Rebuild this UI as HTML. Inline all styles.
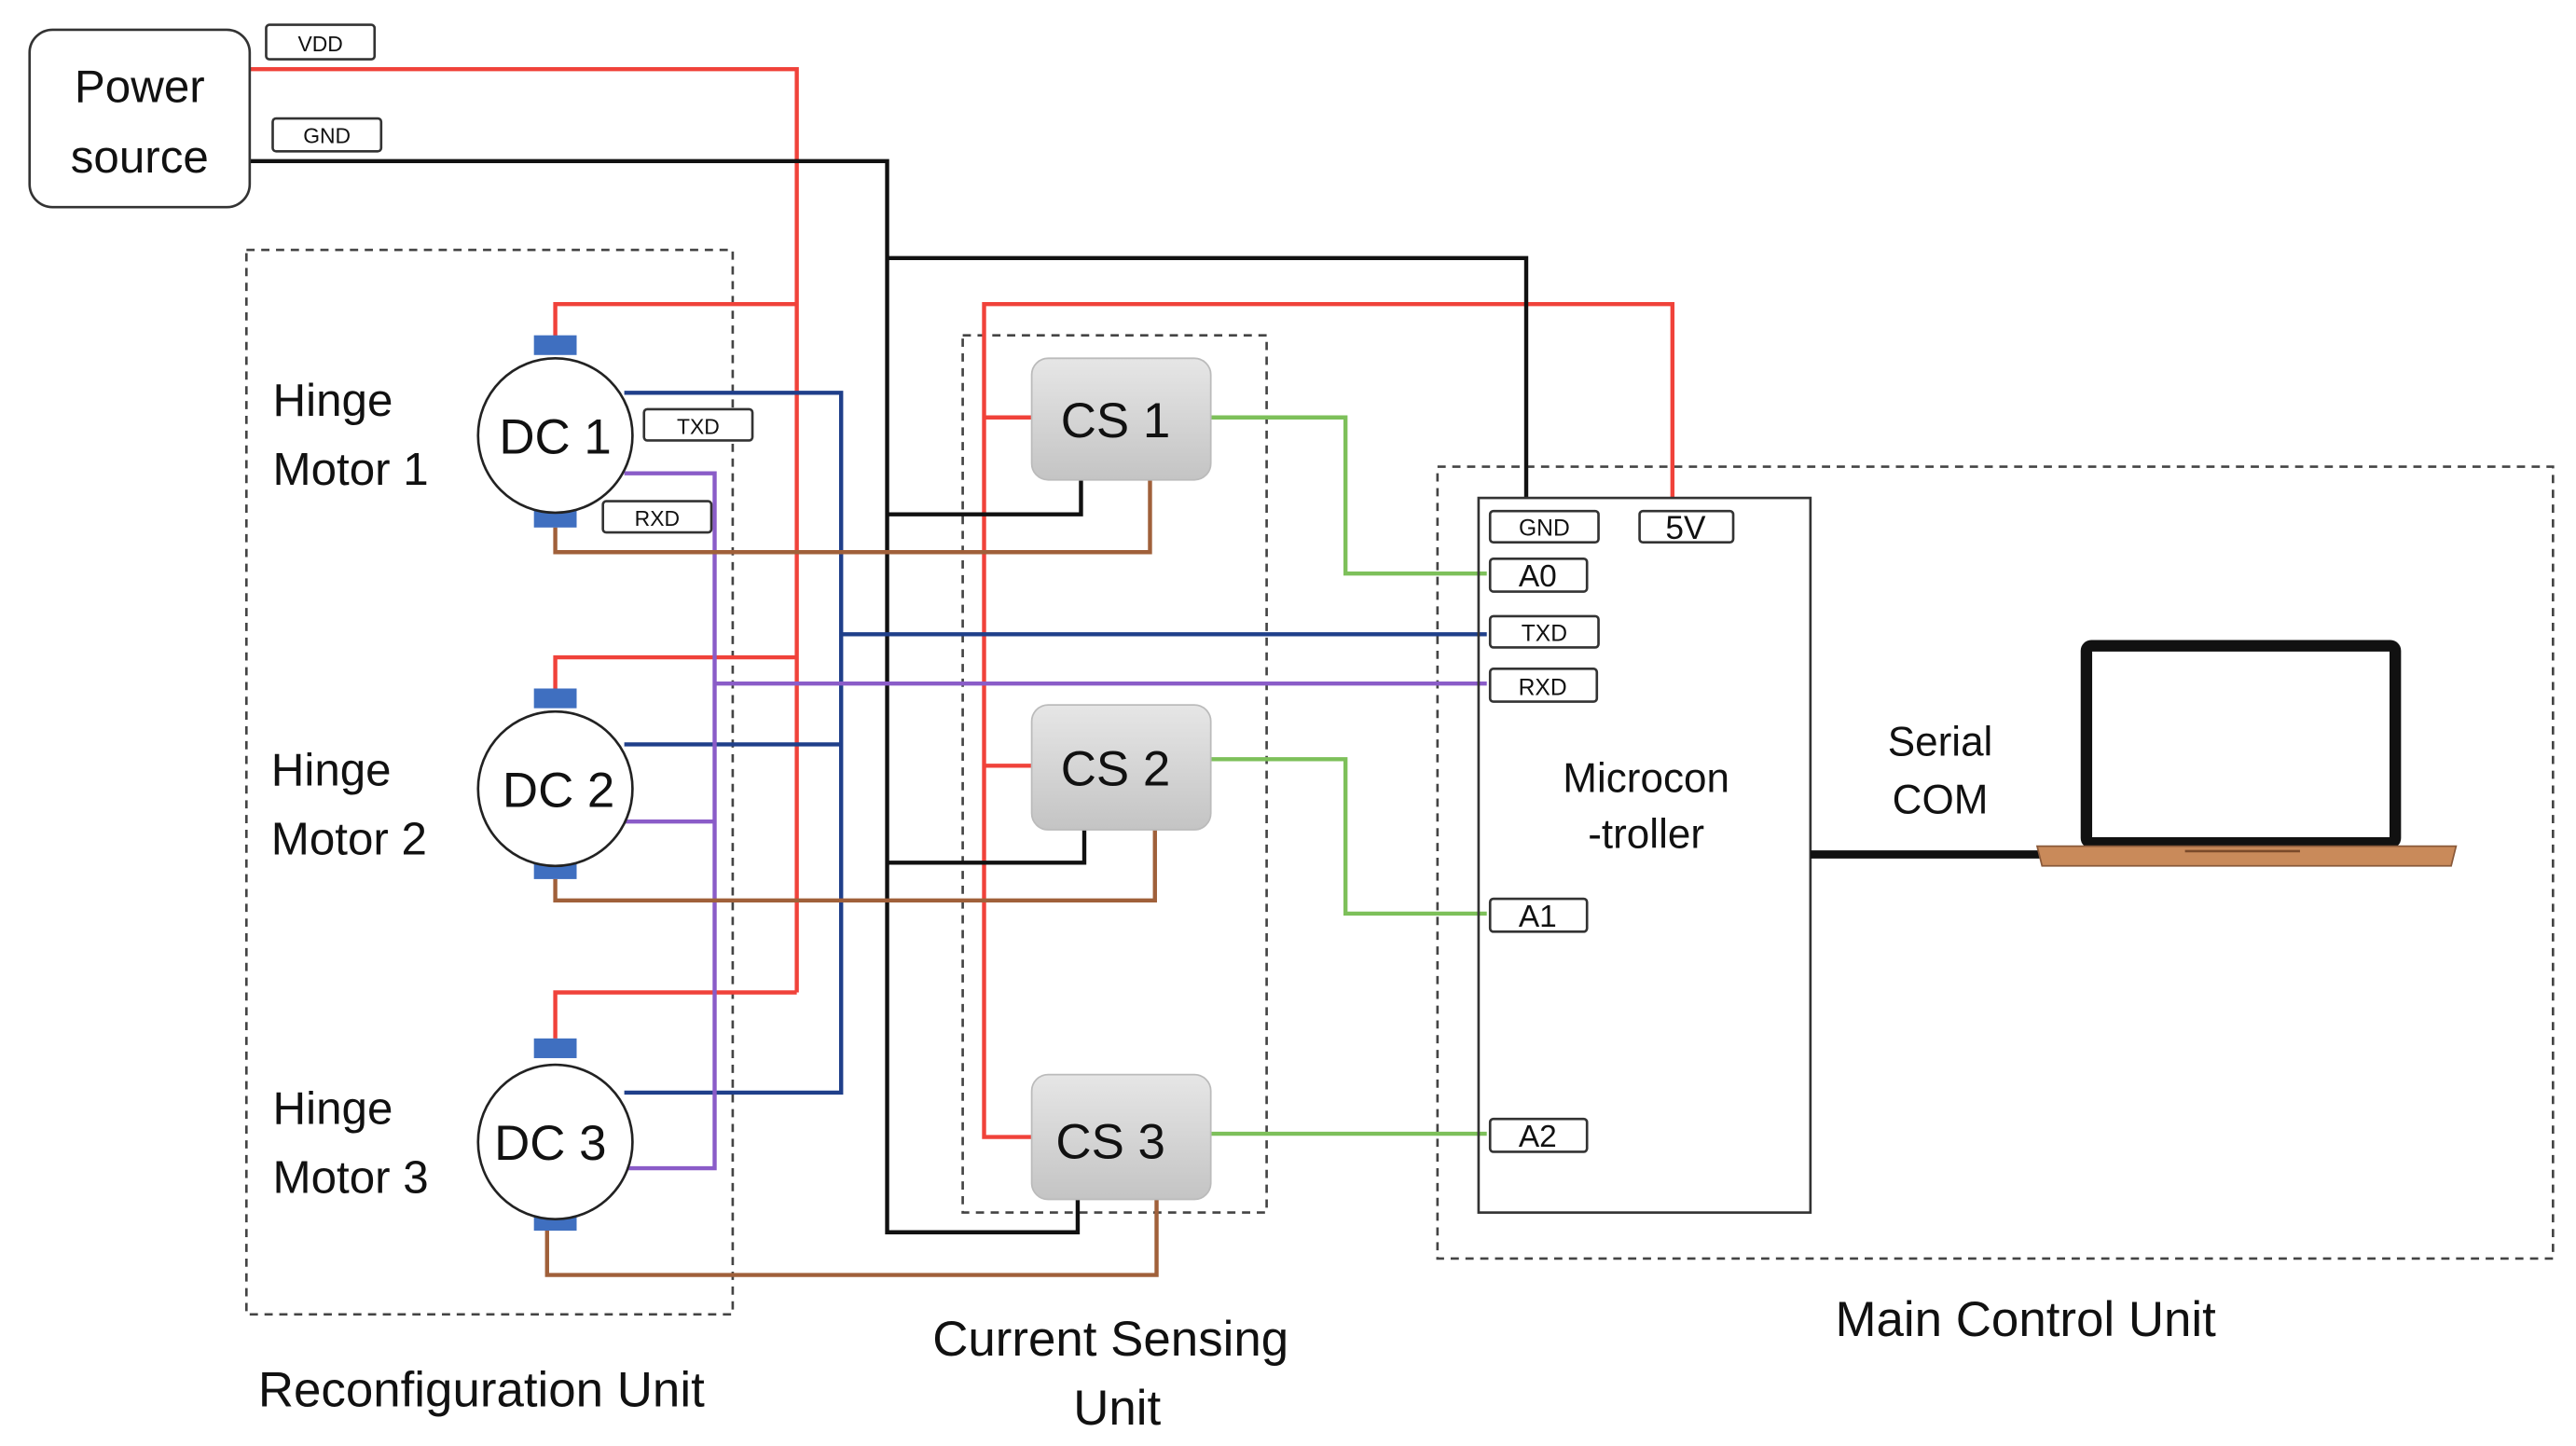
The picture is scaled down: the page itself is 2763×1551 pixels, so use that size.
<!DOCTYPE html>
<html><head><meta charset="utf-8"><style>
html,body{margin:0;padding:0;background:#fff}
svg{display:block}
text{font-family:"Liberation Sans",sans-serif;fill:#111}
</style></head><body>
<svg width="2763" height="1551" viewBox="0 0 1568 880" xmlns="http://www.w3.org/2000/svg">
<defs>
<linearGradient id="g" x1="0" y1="0" x2="0" y2="1"><stop offset="0" stop-color="#e6e6e6"/><stop offset="1" stop-color="#c4c4c4"/></linearGradient>
</defs>
<g fill="none" stroke="#444" stroke-width="1.5" stroke-dasharray="5,4">
<rect x="150" y="152" width="296" height="648"/>
<rect x="586" y="204" width="185" height="534"/>
<rect x="875" y="284" width="679" height="482"/>
</g>
<g fill="none" stroke-width="2.5">
<!-- red -->
<polyline stroke="#f0423a" points="152,42 485,42 485,604"/>
<polyline stroke="#f0423a" points="338,205 338,185 485,185"/>
<polyline stroke="#f0423a" points="338,420 338,400 485,400"/>
<polyline stroke="#f0423a" points="338,632 338,604 485,604"/>
<polyline stroke="#f0423a" points="1018,303 1018,185 599,185 599,692 628,692"/>
<line stroke="#f0423a" x1="599" y1="254" x2="628" y2="254"/>
<line stroke="#f0423a" x1="599" y1="466" x2="628" y2="466"/>
<!-- black -->
<polyline stroke="#111" points="152,98 540,98 540,750 656,750 656,730"/>
<polyline stroke="#111" points="540,157 929,157 929,303"/>
<polyline stroke="#111" points="540,313 658,313 658,292"/>
<polyline stroke="#111" points="540,525 660,525 660,505"/>
<!-- blue -->
<polyline stroke="#1f3f8a" points="380,239 512,239 512,665 380,665"/>
<line stroke="#1f3f8a" x1="380" y1="453" x2="512" y2="453"/>
<line stroke="#1f3f8a" x1="512" y1="386" x2="905" y2="386"/>
<!-- purple -->
<polyline stroke="#8a5cc8" points="380,288 435,288 435,711 380,711"/>
<line stroke="#8a5cc8" x1="380" y1="500" x2="435" y2="500"/>
<line stroke="#8a5cc8" x1="435" y1="416" x2="905" y2="416"/>
<!-- brown -->
<polyline stroke="#a0603a" points="338,321 338,336 700,336 700,292"/>
<polyline stroke="#a0603a" points="338,535 338,548 703,548 703,505"/>
<polyline stroke="#a0603a" points="333,748 333,776 704,776 704,730"/>
<!-- green -->
<polyline stroke="#7dc05a" points="737,254 819,254 819,349 905,349"/>
<polyline stroke="#7dc05a" points="737,462 819,462 819,556 905,556"/>
<line stroke="#7dc05a" x1="737" y1="690" x2="905" y2="690"/>
</g>
<!-- power source -->
<rect x="18" y="18" width="134" height="108" rx="14" fill="#fff" stroke="#333" stroke-width="1.5"/>
<text x="85" y="62" font-size="28" text-anchor="middle">Power</text>
<text x="85" y="105" font-size="28" text-anchor="middle">source</text>
<!-- small labels -->
<g fill="#fff" stroke="#333" stroke-width="1.5">
<rect x="162" y="15" width="66" height="21" rx="2"/>
<rect x="166" y="72" width="66" height="20" rx="2"/>
<rect x="392" y="249" width="66" height="19" rx="2"/>
<rect x="367" y="305" width="66" height="19" rx="2"/>
</g>
<g font-size="13" text-anchor="middle">
<text x="195" y="31">VDD</text><text x="199" y="87">GND</text>
<text x="425" y="264">TXD</text><text x="400" y="320">RXD</text>
</g>
<!-- motors -->
<g fill="#3f6fc0">
<rect x="325" y="204" width="26" height="12"/><rect x="325" y="310" width="26" height="11"/>
<rect x="325" y="419" width="26" height="12"/><rect x="325" y="524" width="26" height="11"/>
<rect x="325" y="632" width="26" height="12"/><rect x="325" y="738" width="26" height="11"/>
</g>
<g fill="#fff" stroke="#222" stroke-width="1.5">
<circle cx="338" cy="265" r="47"/><circle cx="338" cy="480" r="47"/><circle cx="338" cy="695" r="47"/>
</g>
<g font-size="30" text-anchor="middle">
<text x="338" y="276">DC 1</text><text x="340" y="491">DC 2</text><text x="335" y="706">DC 3</text>
</g>
<g font-size="28">
<text x="166" y="253">Hinge</text><text x="166" y="295">Motor 1</text>
<text x="165" y="478">Hinge</text><text x="165" y="520">Motor 2</text>
<text x="166" y="684">Hinge</text><text x="166" y="726">Motor 3</text>
</g>
<!-- CS -->
<g fill="url(#g)" stroke="#bbb" stroke-width="1">
<rect x="628" y="218" width="109" height="74" rx="10"/>
<rect x="628" y="429" width="109" height="76" rx="10"/>
<rect x="628" y="654" width="109" height="76" rx="10"/>
</g>
<g font-size="30" text-anchor="middle">
<text x="679" y="266">CS 1</text><text x="679" y="478">CS 2</text><text x="676" y="705">CS 3</text>
</g>
<!-- microcontroller -->
<rect x="900" y="303" width="202" height="435" fill="none" stroke="#333" stroke-width="1.5"/>
<g fill="#fff" stroke="#333" stroke-width="1.5">
<rect x="907" y="311" width="66" height="19" rx="2"/>
<rect x="998" y="311" width="57" height="19" rx="2"/>
<rect x="907" y="340" width="59" height="20" rx="2"/>
<rect x="907" y="375" width="66" height="19" rx="2"/>
<rect x="907" y="407" width="65" height="20" rx="2"/>
<rect x="907" y="547" width="59" height="20" rx="2"/>
<rect x="907" y="681" width="59" height="20" rx="2"/>
</g>
<g text-anchor="middle">
<text x="940" y="326" font-size="14">GND</text>
<text x="1026" y="328" font-size="20">5V</text>
<text x="936" y="357" font-size="19">A0</text>
<text x="940" y="390" font-size="14">TXD</text>
<text x="939" y="423" font-size="14">RXD</text>
<text x="936" y="564" font-size="19">A1</text>
<text x="936" y="698" font-size="19">A2</text>
<text x="1002" y="482" font-size="25">Microcon</text>
<text x="1002" y="516" font-size="25">-troller</text>
<text x="1181" y="460" font-size="25">Serial</text>
<text x="1181" y="495" font-size="25">COM</text>
</g>
<line x1="1102" y1="520" x2="1245" y2="520" stroke="#111" stroke-width="5"/>
<!-- laptop -->
<rect x="1270" y="393" width="188" height="120" fill="#fff" stroke="#111" stroke-width="7" rx="3"/>
<path d="M1240,515 L1495,515 L1492,527 L1243,527 Z" fill="#c98a5a" stroke="#8a5a3a" stroke-width="1"/>
<line x1="1330" y1="518" x2="1400" y2="518" stroke="#7a4a2a" stroke-width="1.5"/>
<!-- captions -->
<g font-size="30" text-anchor="middle">
<text x="293" y="856">Reconfiguration Unit</text>
<text x="676" y="825">Current Sensing</text>
<text x="680" y="867">Unit</text>
<text x="1233" y="813">Main Control Unit</text>
</g>
</svg>
</body></html>
